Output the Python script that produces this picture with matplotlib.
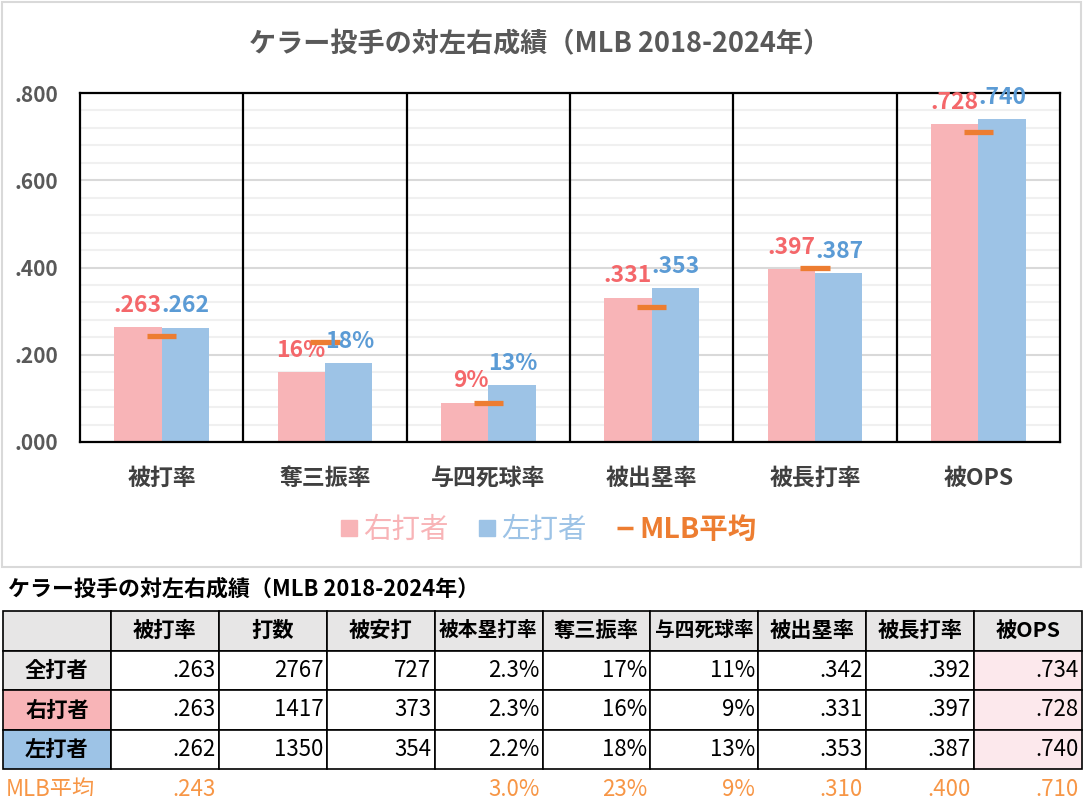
import numpy as np
import matplotlib.pyplot as plt
from matplotlib.lines import Line2D
from matplotlib.patches import Rectangle
from matplotlib.ticker import FuncFormatter, MultipleLocator

plt.rcParams['font.family'] = ['Noto Sans CJK JP', 'DejaVu Sans']

# chart data
categories = ["被打率", "奪三振率", "与四死球率", "被出塁率", "被長打率", "被OPS"]
is_pct = [False, True, True, False, False, False]
right_vals = [0.263, 0.16, 0.09, 0.331, 0.397, 0.728]
left_vals = [0.262, 0.18, 0.13, 0.353, 0.387, 0.740]
mlb_vals = [0.243, 0.23, 0.09, 0.310, 0.400, 0.710]

# table data
tbl_title = "ケラー投手の対左右成績（MLB 2018-2024年）"
tbl_cols = ["", "被打率", "打数", "被安打", "被本塁打率", "奪三振率", "与四死球率", "被出塁率", "被長打率", "被OPS"]
row_all = ["全打者", ".263", "2767", "727", "2.3%", "17%", "11%", ".342", ".392", ".734"]
row_right = ["右打者", ".263", "1417", "373", "2.3%", "16%", "9%", ".331", ".397", ".728"]
row_left = ["左打者", ".262", "1350", "354", "2.2%", "18%", "13%", ".353", ".387", ".740"]
row_mlb = ["MLB平均", ".243", "", "", "3.0%", "23%", "9%", ".310", ".400", ".710"]

PINK = "#F8B4B7"
BLUE = "#9DC3E6"
ORANGE = "#ED7D31"
PINK_TXT = "#F4676A"
BLUE_TXT = "#5B9BD5"
GRAY_TXT = "#595959"

W, H = 1085, 796
fig = plt.figure(figsize=(W / 100, H / 100), dpi=100)

# chart frame
fig.patches.append(Rectangle((2 / W, 1 - 567 / H), 1079 / W, 565 / H, transform=fig.transFigure,
                             fill=False, edgecolor="#D9D9D9", linewidth=1.5))

fig.text(540 / W, 1 - 44 / H, "ケラー投手の対左右成績（MLB 2018-2024年）", ha="center", va="center",
         fontsize=19.5, fontweight="bold", color=GRAY_TXT)

ax = fig.add_axes([80 / W, 1 - 442 / H, 980 / W, 349 / H])
x = np.arange(len(categories))
bw = 0.29
ax.bar(x - bw / 2, right_vals, bw, color=PINK, zorder=2)
ax.bar(x + bw / 2, left_vals, bw, color=BLUE, zorder=2)
ax.hlines(mlb_vals, x - 0.09, x + 0.09, color=ORANGE, linewidth=3.8, zorder=4)


def fmt(v, pct):
    return f"{v * 100:.0f}%" if pct else f"{v:.3f}"[1:]


for i in range(len(categories)):
    ax.annotate(fmt(right_vals[i], is_pct[i]), (x[i], right_vals[i]), xytext=(0, 11),
                textcoords="offset points", ha="right", va="baseline", fontsize=16.5,
                fontweight="bold", color=PINK_TXT, zorder=3, annotation_clip=False)
    ax.annotate(fmt(left_vals[i], is_pct[i]), (x[i], left_vals[i]), xytext=(0, 11),
                textcoords="offset points", ha="left", va="baseline", fontsize=16.5,
                fontweight="bold", color=BLUE_TXT, zorder=5, annotation_clip=False)

for b in np.arange(0.5, len(categories) - 1, 1):
    ax.axvline(b, color="black", linewidth=1.6, zorder=1)

ax.set_xlim(-0.5, len(categories) - 0.5)
ax.set_ylim(0, 0.8)
ax.yaxis.set_major_locator(MultipleLocator(0.2))
ax.yaxis.set_minor_locator(MultipleLocator(0.04))
ax.yaxis.set_major_formatter(FuncFormatter(lambda v, p: f"{v:.3f}"[1:]))
ax.grid(axis="y", which="minor", color="#F0F0F0", linewidth=1.5, zorder=0)
ax.grid(axis="y", which="major", color="#D9D9D9", linewidth=1.5, zorder=0)
ax.set_axisbelow(True)
ax.set_xticks(x)
ax.set_xticklabels(categories)
ax.tick_params(axis="x", length=0, pad=18, labelsize=16.5, labelcolor="#404040")
ax.tick_params(axis="y", which="both", length=0, pad=16, labelsize=15, labelcolor=GRAY_TXT)
for lbl in ax.get_xticklabels() + ax.get_yticklabels():
    lbl.set_fontweight("bold")
for s in ax.spines.values():
    s.set_linewidth(1.6)
    s.set_color("black")

handles = [
    Line2D([], [], marker="s", linestyle="none", color=PINK, markersize=11),
    Line2D([], [], marker="s", linestyle="none", color=BLUE, markersize=11),
    Line2D([], [], marker="_", linestyle="none", color=ORANGE, markersize=12, markeredgewidth=2.5),
]
leg = fig.legend(handles, ["右打者", "左打者", "MLB平均"], loc="center", bbox_to_anchor=(548 / W, 1 - 530 / H),
                 ncol=3, frameon=False, fontsize=20.5, handletextpad=0.15, columnspacing=1.0,
                 handlelength=0.7, labelcolor=[PINK, BLUE, ORANGE])
leg.get_texts()[2].set_fontweight("bold")

# table
fig.text(8 / W, 1 - 589 / H, tbl_title, ha="left", va="center", fontsize=15.8, fontweight="bold", color="black")
tax = fig.add_axes([3 / W, 1 - 809 / H, 1079 / W, 198 / H])
tax.axis("off")
rows = [tbl_cols, row_all, row_right, row_left, row_mlb]
tb = tax.table(cellText=rows, bbox=[0, 0, 1, 1], cellLoc="right")
tb.auto_set_font_size(False)
row_fill = {1: "#E7E6E6", 2: PINK, 3: BLUE}
for (r, c), cell in tb.get_celld().items():
    cell.set_linewidth(1.2)
    cell.set_edgecolor("black")
    t = cell.get_text()
    t.set_fontsize(16)
    cell.PAD = 0.03
    if r == 0:
        cell.set_facecolor("#E7E6E6")
        t.set_ha("center")
        t.set_fontweight("bold")
        t.set_fontsize(15.3 if len(tbl_cols[c]) < 5 else 14.2)
    elif r < 4:
        if c == 0:
            cell.set_facecolor(row_fill[r])
            t.set_ha("center")
            t.set_fontweight("bold")
            t.set_fontsize(15.3)
        elif c == len(tbl_cols) - 1:
            cell.set_facecolor("#FCE8EC")
    else:
        cell.visible_edges = ""
        cell.set_facecolor("none")
        t.set_color("#F79646")
        if c == 0:
            t.set_ha("left")

fig.savefig("out.png", dpi=100)
